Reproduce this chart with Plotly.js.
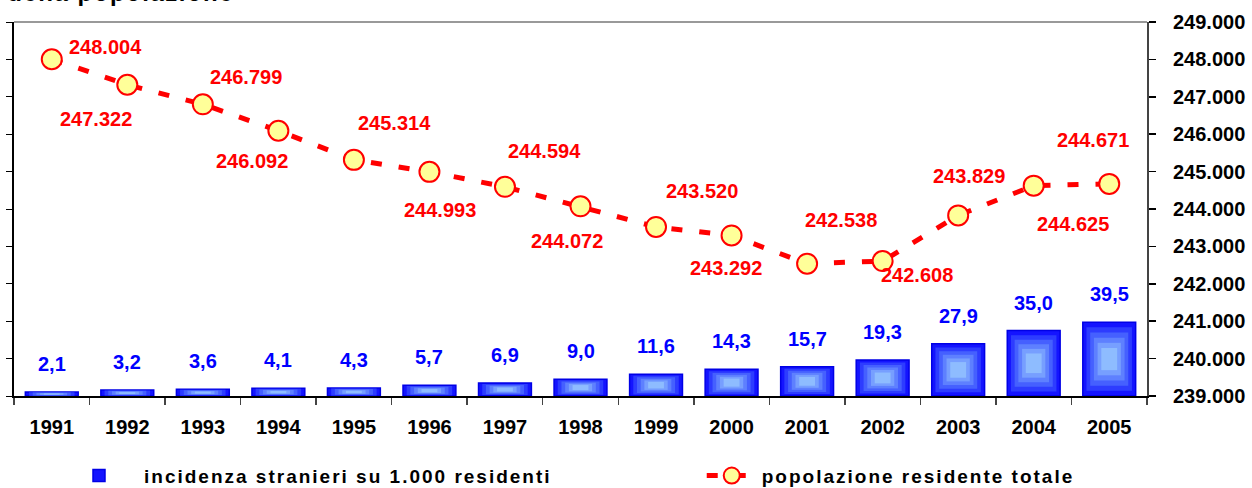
<!DOCTYPE html>
<html>
<head>
<meta charset="utf-8">
<script src="https://cdn.plot.ly/plotly-3.0.1.min.js"></script>
<style>
  html, body { margin: 0; padding: 0; background: #fff; }
  #chart { width: 1252px; height: 488px; }
  text.legendtext { letter-spacing: 2px; }
</style>
</head>
<body>
<div id="chart"></div>
<script>
// ---- data ----
const years = ['1991','1992','1993','1994','1995','1996','1997','1998','1999','2000','2001','2002','2003','2004','2005'];
const incidenza = [2.1, 3.2, 3.6, 4.1, 4.3, 5.7, 6.9, 9.0, 11.6, 14.3, 15.7, 19.3, 27.9, 35.0, 39.5];
const popolazione = [248004, 247322, 246799, 246092, 245314, 244993, 244594, 244072, 243520, 243292, 242538, 242608, 243829, 244625, 244671];
const barName = 'incidenza stranieri su 1.000 residenti';
const lineName = 'popolazione residente totale';
const titleText = 'della popolazione';

// ---- styles ----
const FONT = 'Liberation Sans, Arial, sans-serif';
const labelOffsets = [[54,-12],[-31,34],[43,-27],[-26,30],[41,-37],[11,38],[40,-36],[-14,35],[46,-36],[-6,33],[34,-44],[34,14],[11,-39],[39,38],[-16,-44]];
const gradColors = ['#1414ff','#2d3cff','#4560ff','#5e80ff','#779fff','#8ebcff'];
const gradFrac = [0, 0.14, 0.28, 0.42, 0.56, 0.70];
const barWidth = 0.70;

function fmtDec(v) { return v.toFixed(1).replace('.', ','); }
function fmtThousands(v) { return String(v).replace(/\B(?=(\d{3})+(?!\d))/g, '.'); }

const traces = [];
gradFrac.forEach(function (f, k) {
  traces.push({
    type: 'bar',
    x: years,
    y: incidenza.map(function (v) { return v * (1 - f); }),
    base: incidenza.map(function (v) { return v * f / 2; }),
    width: barWidth * (1 - f),
    name: barName,
    showlegend: k === 0,
    legend: 'legend',
    hoverinfo: 'skip',
    marker: { color: gradColors[k], line: { color: k === 0 ? '#0000e6' : gradColors[k], width: k === 0 ? 1.5 : 0 } },
    yaxis: 'y',
    xaxis: 'x'
  });
});

traces.push({
  type: 'scatter',
  mode: 'lines+markers',
  x: years,
  y: popolazione,
  name: lineName,
  legend: 'legend2',
  yaxis: 'y2',
  xaxis: 'x',
  line: { color: '#ff0000', width: 5, dash: '11px,17px' },
  marker: { size: 20, color: '#ffff99', line: { color: '#ff0000', width: 2 } }
});

const annotations = [];
popolazione.forEach(function (v, i) {
  annotations.push({
    x: i, y: v, xref: 'x', yref: 'y2',
    text: fmtThousands(v), showarrow: false,
    xshift: labelOffsets[i][0], yshift: -labelOffsets[i][1],
    font: { family: FONT, size: 20, color: '#ff0000', weight: 700 }
  });
});
incidenza.forEach(function (v, i) {
  annotations.push({
    x: i, y: v, xref: 'x', yref: 'y',
    text: fmtDec(v), showarrow: false, yanchor: 'bottom', yshift: 15,
    font: { family: FONT, size: 20, color: '#0000ff', weight: 700 }
  });
});
annotations.push({
  x: 0, y: 1, xref: 'paper', yref: 'paper', xanchor: 'left', yanchor: 'bottom',
  xshift: 4, yshift: 14, text: titleText, showarrow: false,
  font: { family: FONT, size: 24, color: '#000000', weight: 700 }
});

const legendFont = { family: FONT, size: 19, color: '#000', weight: 700 };
const layout = {
  width: 1252, height: 488,
  margin: { l: 14, r: 105, t: 22, b: 92, pad: 0, autoexpand: false },
  paper_bgcolor: '#ffffff', plot_bgcolor: '#ffffff',
  separators: ',.',
  barmode: 'overlay',
  font: { family: FONT, size: 20, color: '#000', weight: 700 },
  showlegend: true,
  legend: {
    orientation: 'h', x: 0.0353, xanchor: 'left', y: -0.213, yanchor: 'middle',
    font: legendFont, itemwidth: 80, bgcolor: 'rgba(0,0,0,0)'
  },
  legend2: {
    orientation: 'h', x: 0.607, xanchor: 'left', y: -0.213, yanchor: 'middle',
    font: legendFont, itemwidth: 50, bgcolor: 'rgba(0,0,0,0)'
  },
  xaxis: {
    type: 'category', range: [-0.5, 14.5], showgrid: false, zeroline: false,
    showline: true, linecolor: '#000', linewidth: 2,
    ticks: 'outside', tickson: 'boundaries', ticklen: 7, tickcolor: '#444', tickwidth: 1.5,
    ticklabelstandoff: 12, tickangle: 0,
    tickfont: { family: FONT, size: 20, color: '#000', weight: 700 },
    fixedrange: true
  },
  yaxis: {
    range: [0, 200], dtick: 20, showgrid: false, zeroline: false,
    showline: true, linecolor: '#000', linewidth: 2,
    ticks: 'outside', ticklen: 6, tickcolor: '#000', tickwidth: 1,
    showticklabels: false, fixedrange: true
  },
  yaxis2: {
    overlaying: 'y', side: 'right',
    range: [239000, 249000], dtick: 1000, tickformat: ',d',
    showgrid: false, zeroline: false,
    showline: true, linecolor: '#444', linewidth: 2,
    ticks: 'outside', ticklen: 7, tickcolor: '#000', tickwidth: 1.5,
    ticklabelstandoff: 13,
    tickfont: { family: FONT, size: 20, color: '#000', weight: 700 },
    fixedrange: true
  },
  shapes: [{
    type: 'line', xref: 'paper', yref: 'paper', x0: 0, x1: 1, y0: 1, y1: 1,
    line: { color: '#999999', width: 2 }
  }],
  annotations: annotations
};

function spaceTexts(gd) {
  gd.querySelectorAll('text').forEach(function (t) {
    if (t.textContent === lineName) {
      t.style.letterSpacing = '2px';
      var sb = t.closest('.scrollbox');
      if (sb) { sb.removeAttribute('clip-path'); }
    }
    if (t.textContent === titleText) { t.style.letterSpacing = '1.5px'; }
  });
}

Plotly.newPlot('chart', traces, layout, { displayModeBar: false, staticPlot: true }).then(function (gd) {
  spaceTexts(gd);
  setTimeout(function () { spaceTexts(gd); }, 50);
});
</script>
</body>
</html>
